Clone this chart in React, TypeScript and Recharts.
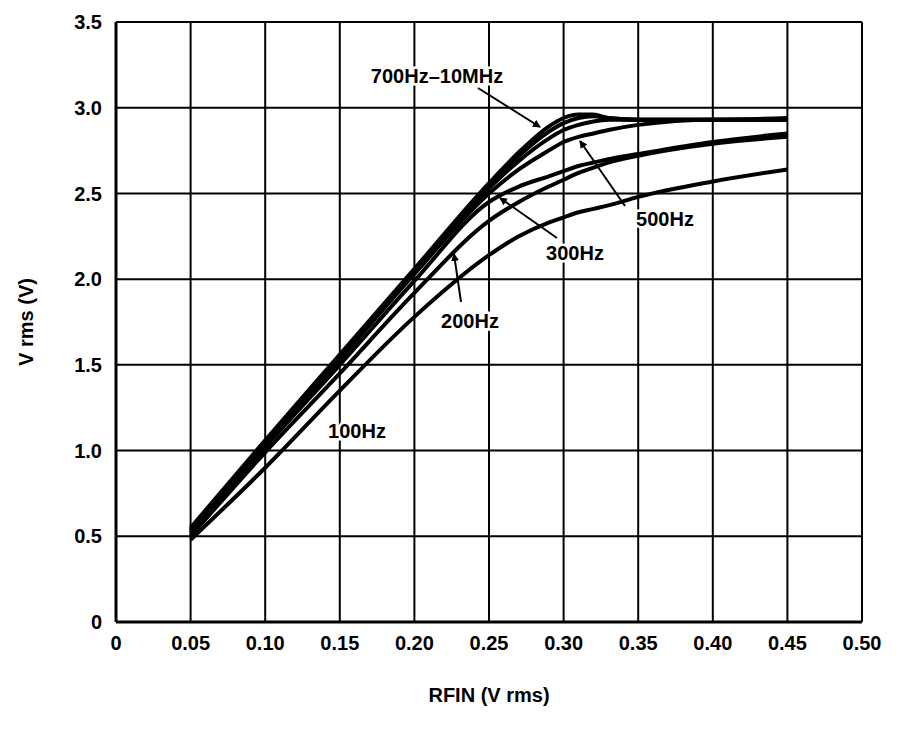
import { CartesianGrid, Line, LineChart, XAxis, YAxis } from 'recharts'

const X_VALUES = [0.05, 0.1, 0.15, 0.2, 0.25, 0.27, 0.29, 0.3, 0.31, 0.32, 0.33, 0.35, 0.4, 0.45]
const HZ_10M = [0.55, 1.06, 1.56, 2.06, 2.56, 2.74, 2.89, 2.94, 2.96, 2.96, 2.94, 2.93, 2.93, 2.94]
const HZ_1K = [0.54, 1.05, 1.55, 2.05, 2.55, 2.72, 2.86, 2.91, 2.94, 2.95, 2.94, 2.93, 2.93, 2.93]
const HZ_700 = [0.53, 1.04, 1.54, 2.04, 2.53, 2.69, 2.82, 2.87, 2.9, 2.92, 2.93, 2.93, 2.93, 2.93]
const HZ_500 = [0.52, 1.03, 1.53, 2.03, 2.5, 2.64, 2.75, 2.8, 2.83, 2.85, 2.87, 2.9, 2.93, 2.93]
const HZ_300 = [0.51, 1.02, 1.5, 1.99, 2.45, 2.54, 2.6, 2.63, 2.66, 2.68, 2.7, 2.73, 2.8, 2.85]
const HZ_200 = [0.5, 0.99, 1.45, 1.92, 2.34, 2.45, 2.54, 2.58, 2.62, 2.65, 2.68, 2.72, 2.79, 2.83]
const HZ_100 = [0.48, 0.9, 1.35, 1.78, 2.14, 2.25, 2.33, 2.36, 2.39, 2.41, 2.43, 2.48, 2.57, 2.64]

const X_TICKS = [0, 0.05, 0.1, 0.15, 0.2, 0.25, 0.3, 0.35, 0.4, 0.45, 0.5]
const Y_TICKS = [0, 0.5, 1, 1.5, 2, 2.5, 3, 3.5]

const SERIES = [
  { key: 'hz10m', values: HZ_10M },
  { key: 'hz1k', values: HZ_1K },
  { key: 'hz700', values: HZ_700 },
  { key: 'hz500', values: HZ_500 },
  { key: 'hz300', values: HZ_300 },
  { key: 'hz200', values: HZ_200 },
  { key: 'hz100', values: HZ_100 },
]

const data = X_VALUES.map((x, i) => {
  const row: Record<string, number> = { x }
  SERIES.forEach((s) => (row[s.key] = s.values[i]))
  return row
})

const FONT = '"Liberation Sans", Arial, sans-serif'
const TICK = { fontSize: 20, fontWeight: 700, fill: '#000', fontFamily: FONT }

// 標註：文字位置與箭頭（像素座標）
const LABELS = [
  { text: '700Hz–10MHz', x: 437, y: 83, ax: [478, 88, 540, 127] },
  { text: '500Hz', x: 665, y: 226, ax: [625, 206, 580, 141] },
  { text: '300Hz', x: 575, y: 260, ax: [557, 238, 500, 198] },
  { text: '200Hz', x: 470, y: 328, ax: [461, 302, 454, 254] },
  { text: '100Hz', x: 357, y: 438, ax: null as number[] | null },
]

const fmtX = (v: number) => (v === 0 ? '0' : v.toFixed(2))
const fmtY = (v: number) => (v === 0 ? '0' : v.toFixed(1))

export default function App() {
  return (
    <div style={{ position: 'fixed', left: 0, top: 0, width: 900, height: 729, background: '#fff' }}>
      <LineChart width={900} height={729} data={data} margin={{ top: 22, right: 38, left: 46, bottom: 47 }}>
        <CartesianGrid stroke="#000" strokeWidth={2} />
        <XAxis
          dataKey="x"
          type="number"
          domain={[0, 0.5]}
          ticks={X_TICKS}
          tickFormatter={fmtX}
          tick={TICK}
          axisLine={{ stroke: '#000', strokeWidth: 3 }}
          tickLine={false}
          height={60}
          tickMargin={8}
          label={{ value: 'RFIN (V rms)', position: 'insideBottom', offset: -20, style: { ...TICK } }}
        />
        <YAxis
          type="number"
          domain={[0, 3.5]}
          ticks={Y_TICKS}
          tickFormatter={fmtY}
          tick={TICK}
          axisLine={{ stroke: '#000', strokeWidth: 3 }}
          tickLine={false}
          width={70}
          tickMargin={8}
          label={{ value: 'V rms (V)', angle: -90, position: 'insideLeft', offset: -20, style: { ...TICK, textAnchor: 'middle' } }}
        />
        {SERIES.map((s) => (
          <Line
            key={s.key}
            dataKey={s.key}
            type="monotone"
            stroke="#000"
            strokeWidth={4}
            dot={false}
            isAnimationActive={false}
          />
        ))}
      </LineChart>
      <svg width={900} height={729} style={{ position: 'absolute', left: 0, top: 0, pointerEvents: 'none' }}>
        <defs>
          <marker id="ah" markerWidth="8" markerHeight="8" refX="7" refY="4" orient="auto" markerUnits="userSpaceOnUse">
            <path d="M0,0 L8,4 L0,8 z" fill="#000" />
          </marker>
        </defs>
        {LABELS.map((l) => (
          <g key={l.text}>
            <text x={l.x} y={l.y} textAnchor="middle" fontFamily={FONT} fontSize={20} fontWeight={700} fill="#000" stroke="#fff" strokeWidth={5} paintOrder="stroke">
              {l.text}
            </text>
            {l.ax && (
              <line x1={l.ax[0]} y1={l.ax[1]} x2={l.ax[2]} y2={l.ax[3]} stroke="#000" strokeWidth={2} markerEnd="url(#ah)" />
            )}
          </g>
        ))}
      </svg>
    </div>
  )
}
